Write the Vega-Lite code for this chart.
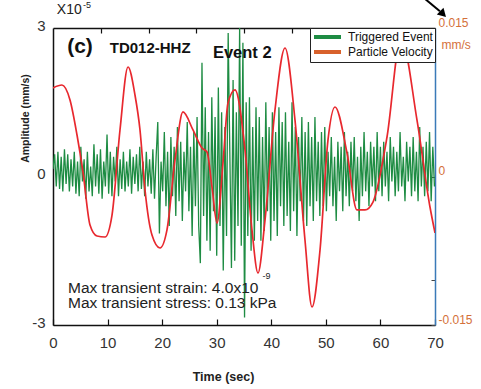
{
  "$schema": "https://vega.github.io/schema/vega-lite/v6.json",
  "width": 382,
  "height": 297,
  "autosize": "none",
  "padding": {"left": 53, "top": 28, "right": 46, "bottom": 64},
  "background": "white",
  "config": {"view": {"stroke": null}, "font": "Liberation Sans"},
  "resolve": {"scale": {"x": "independent", "y": "independent"}, "axis": {"x": "independent", "y": "independent"}},
  "layer": [
    {
      "layer": [
        {
          "data": {"values": [
            {"t":0.0,"a":0.15},{"t":0.3,"a":0.45},{"t":0.6,"a":-0.2},{"t":0.9,"a":0.5},{"t":1.2,"a":-0.25},{"t":1.5,"a":0.4},{"t":1.8,"a":-0.3},{"t":2.1,"a":0.55},{"t":2.4,"a":-0.15},{"t":2.7,"a":0.45},{"t":3.0,"a":-0.3},{"t":3.3,"a":0.35},{"t":3.6,"a":-0.2},{"t":3.9,"a":0.5},
            {"t":4.2,"a":-0.35},{"t":4.5,"a":0.3},{"t":4.8,"a":-0.4},{"t":5.1,"a":0.6},{"t":5.4,"a":-0.1},{"t":5.7,"a":0.35},{"t":6.0,"a":-0.45},{"t":6.3,"a":0.5},{"t":6.6,"a":-0.3},{"t":6.9,"a":0.2},{"t":7.2,"a":-0.4},{"t":7.5,"a":0.65},{"t":7.8,"a":-0.2},{"t":8.1,"a":0.45},{"t":8.4,"a":-0.35},{"t":8.7,"a":0.55},{"t":9.0,"a":-0.45},{"t":9.3,"a":0.3},{"t":9.6,"a":-0.2},{"t":9.9,"a":0.85},
            {"t":10.2,"a":-0.35},{"t":10.5,"a":0.5},{"t":10.8,"a":-0.4},{"t":11.1,"a":0.4},{"t":11.4,"a":-0.1},{"t":11.7,"a":0.6},{"t":12.0,"a":-0.4},{"t":12.3,"a":0.35},{"t":12.6,"a":-0.25},{"t":12.9,"a":0.5},{"t":13.2,"a":-0.3},{"t":13.5,"a":0.3},{"t":13.8,"a":-0.2},{"t":14.1,"a":0.55},{"t":14.4,"a":-0.35},{"t":14.7,"a":0.4},{"t":15.0,"a":-0.15},{"t":15.3,"a":0.45},{"t":15.6,"a":-0.3},{"t":15.9,"a":0.6},{"t":16.2,"a":-0.25},{"t":16.5,"a":0.3},{"t":16.8,"a":-0.4},{"t":17.1,"a":0.5},{"t":17.4,"a":-0.2},{"t":17.7,"a":0.35},{"t":18.0,"a":-0.35},{"t":18.3,"a":0.55},{"t":18.6,"a":-0.45},{"t":18.9,"a":0.4},{"t":19.2,"a":1.1},{"t":19.5,"a":-1.15},{"t":19.8,"a":0.3},
            {"t":20.1,"a":-0.3},{"t":20.4,"a":0.9},{"t":20.7,"a":-0.6},{"t":21.0,"a":0.5},{"t":21.3,"a":-1.0},{"t":21.6,"a":0.8},{"t":21.9,"a":-0.4},{"t":22.2,"a":0.6},{"t":22.5,"a":-0.8},{"t":22.8,"a":1.0},{"t":23.1,"a":-0.5},{"t":23.4,"a":0.7},{"t":23.7,"a":-0.9},{"t":24.0,"a":0.5},{"t":24.3,"a":-0.3},{"t":24.6,"a":1.1},{"t":24.9,"a":-0.7},{"t":25.2,"a":0.6},{"t":25.5,"a":-1.2},{"t":25.8,"a":0.9},{"t":26.1,"a":-0.6},{"t":26.4,"a":1.2},{"t":26.7,"a":-1.0},
            {"t":27.0,"a":-1.75},{"t":27.3,"a":2.3},{"t":27.6,"a":-0.8},{"t":27.9,"a":1.4},{"t":28.2,"a":-1.3},{"t":28.5,"a":0.9},{"t":28.8,"a":-1.5},{"t":29.1,"a":1.6},{"t":29.4,"a":-0.7},{"t":29.7,"a":1.2},{"t":30.0,"a":-1.6},{"t":30.3,"a":1.8},{"t":30.6,"a":-1.0},{"t":30.9,"a":1.3},{"t":31.2,"a":-1.9},{"t":31.5,"a":1.0},{"t":31.8,"a":-1.2},{"t":32.1,"a":2.9},{"t":32.4,"a":0.5},{"t":32.7,"a":-1.85},{"t":33.0,"a":1.95},{"t":33.3,"a":-1.7},{"t":33.6,"a":1.3},{"t":33.9,"a":-1.0},{"t":34.2,"a":3.0},{"t":34.5,"a":-1.4},{"t":34.8,"a":2.7},{"t":35.1,"a":-2.85},{"t":35.4,"a":1.5},{"t":35.7,"a":-1.2},{"t":36.0,"a":1.6},{"t":36.3,"a":-1.5},{"t":36.6,"a":1.0},{"t":36.9,"a":-1.3},
            {"t":37.2,"a":1.4},{"t":37.5,"a":-0.9},{"t":37.8,"a":1.2},{"t":38.1,"a":-1.3},{"t":38.4,"a":0.8},{"t":38.7,"a":-1.1},{"t":39.0,"a":1.5},{"t":39.3,"a":-0.7},{"t":39.6,"a":1.0},{"t":39.9,"a":-1.3},{"t":40.2,"a":1.3},{"t":40.5,"a":-0.9},{"t":40.8,"a":0.9},{"t":41.1,"a":-1.2},{"t":41.4,"a":1.4},{"t":41.7,"a":-0.6},{"t":42.0,"a":1.1},{"t":42.3,"a":-1.0},{"t":42.6,"a":1.3},{"t":42.9,"a":-0.8},{"t":43.2,"a":0.7},{"t":43.5,"a":-1.1},{"t":43.8,"a":1.5},{"t":44.1,"a":-0.7},{"t":44.4,"a":1.0},{"t":44.7,"a":-1.2},{"t":45.0,"a":0.8},{"t":45.3,"a":-0.5},{"t":45.6,"a":1.2},{"t":45.9,"a":-0.9},{"t":46.2,"a":0.9},{"t":46.5,"a":-1.0},{"t":46.8,"a":1.1},{"t":47.1,"a":-0.6},{"t":47.4,"a":0.8},{"t":47.7,"a":-0.9},{"t":48.0,"a":1.2},{"t":48.3,"a":-0.5},{"t":48.6,"a":0.7},{"t":48.9,"a":-0.8},{"t":49.2,"a":0.9},{"t":49.5,"a":-0.6},{"t":49.8,"a":1.0},
            {"t":50.1,"a":-0.7},{"t":50.4,"a":0.5},{"t":50.7,"a":-0.4},{"t":51.0,"a":0.8},{"t":51.3,"a":-0.6},{"t":51.6,"a":0.4},{"t":51.9,"a":-0.9},{"t":52.2,"a":0.7},{"t":52.5,"a":-0.3},{"t":52.8,"a":0.6},{"t":53.1,"a":-0.7},{"t":53.4,"a":0.9},{"t":53.7,"a":-0.4},{"t":54.0,"a":0.5},{"t":54.3,"a":-0.6},{"t":54.6,"a":0.7},{"t":54.9,"a":-0.3},{"t":55.2,"a":0.8},{"t":55.5,"a":-0.5},{"t":55.8,"a":0.4},{"t":56.1,"a":-0.9},{"t":56.4,"a":0.6},{"t":56.7,"a":-0.4},{"t":57.0,"a":0.9},{"t":57.3,"a":-0.3},{"t":57.6,"a":0.5},{"t":57.9,"a":-0.6},{"t":58.2,"a":0.7},{"t":58.5,"a":-0.2},{"t":58.8,"a":0.6},{"t":59.1,"a":-0.5},{"t":59.4,"a":0.9},{"t":59.7,"a":-0.3},
            {"t":60.0,"a":0.6},{"t":60.3,"a":-0.4},{"t":60.6,"a":0.7},{"t":60.9,"a":-0.2},{"t":61.2,"a":0.5},{"t":61.5,"a":-0.5},{"t":61.8,"a":0.8},{"t":62.1,"a":-0.1},{"t":62.4,"a":0.6},{"t":62.7,"a":-0.4},{"t":63.0,"a":0.5},{"t":63.3,"a":-0.3},{"t":63.6,"a":0.9},{"t":63.9,"a":-0.2},{"t":64.2,"a":0.4},{"t":64.5,"a":-0.5},{"t":64.8,"a":0.7},{"t":65.1,"a":-0.1},{"t":65.4,"a":0.6},{"t":65.7,"a":-0.4},{"t":66.0,"a":0.8},{"t":66.3,"a":-0.3},{"t":66.6,"a":0.5},{"t":66.9,"a":-0.5},{"t":67.2,"a":1.0},{"t":67.5,"a":-0.2},{"t":67.8,"a":0.6},{"t":68.1,"a":-0.4},{"t":68.4,"a":0.7},{"t":68.7,"a":-0.3},{"t":69.0,"a":0.9},{"t":69.3,"a":-0.5},{"t":69.6,"a":0.6},{"t":69.9,"a":-0.2}
          ]},
          "mark": {"type": "line", "strokeWidth": 1.3, "clip": true},
          "encoding": {
            "x": {"field": "t", "type": "quantitative", "scale": {"domain": [0, 70], "nice": false, "zero": false},
              "axis": {"title": "Time (sec)", "values": [0,10,20,30,40,50,60,70], "grid": false, "domainColor": "#111", "domainWidth": 1.5, "tickColor": "#111", "tickSize": -6, "tickWidth": 1.2, "labelPadding": 16, "labelFontSize": 15, "labelColor": "#333", "labelFlush": false, "titleFontSize": 12.5, "titleFontWeight": "bold", "titleColor": "#222", "titleX": 170, "titleY": 51, "titleBaseline": "middle"}},
            "y": {"field": "a", "type": "quantitative", "scale": {"domain": [-3, 3], "nice": false},
              "axis": {"title": "Amplitude (mm/s)", "values": [-3, 0, 3], "labelExpr": "datum.value < 0 ? '-3' : datum.label", "grid": false, "ticks": false, "domainColor": "#111", "domainWidth": 1.5, "labelPadding": 8, "labelOffset": -3, "labelFontSize": 15, "labelColor": "#333", "titleFontSize": 10.5, "titleFontWeight": "bold", "titleColor": "#222", "titleX": -28, "titleY": 90, "titleBaseline": "middle", "titleAlign": "center", "titleAngle": 270}},
            "color": {"datum": "Triggered Event", "scale": {"domain": ["Triggered Event", "Particle Velocity"], "range": ["#1e8c43", "#d8612c"]},
              "legend": {"title": null, "orient": "top-right", "offset": 0, "padding": 2, "strokeColor": "#222", "fillColor": "white", "symbolType": "M-1,0H4.4", "symbolStrokeWidth": 4, "symbolSize": 100, "labelFontSize": 12, "labelColor": "#111", "labelOffset": 22, "rowPadding": -3}}
          }
        },
        {
          "data": {"values": [{"t": 2.6, "a": 2.62, "label": "(c)"}]},
          "mark": {"type": "text", "align": "left", "baseline": "middle", "fontSize": 21, "fontWeight": "bold", "color": "#111"},
          "encoding": {"x": {"field": "t", "type": "quantitative"}, "y": {"field": "a", "type": "quantitative"}, "text": {"field": "label"}}
        },
        {
          "data": {"values": [{"t": 10.4, "a": 2.6, "label": "TD012-HHZ"}]},
          "mark": {"type": "text", "align": "left", "baseline": "middle", "fontSize": 15, "fontWeight": "bold", "color": "#111"},
          "encoding": {"x": {"field": "t", "type": "quantitative"}, "y": {"field": "a", "type": "quantitative"}, "text": {"field": "label"}}
        },
        {
          "data": {"values": [{"t": 29.3, "a": 2.5, "label": "Event 2"}]},
          "mark": {"type": "text", "align": "left", "baseline": "middle", "fontSize": 16.5, "fontWeight": "bold", "color": "#111"},
          "encoding": {"x": {"field": "t", "type": "quantitative"}, "y": {"field": "a", "type": "quantitative"}, "text": {"field": "label"}}
        },
        {
          "data": {"values": [{"t": 2.75, "a": -2.25, "label": "Max transient strain: 4.0x10"}, {"t": 2.75, "a": -2.56, "label": "Max transient stress: 0.13 kPa"}]},
          "mark": {"type": "text", "align": "left", "baseline": "middle", "fontSize": 15.5, "color": "#222"},
          "encoding": {"x": {"field": "t", "type": "quantitative"}, "y": {"field": "a", "type": "quantitative"}, "text": {"field": "label"}}
        },
        {
          "data": {"values": [{"t": 0.7, "a": 3.36, "label": "X10"}]},
          "mark": {"type": "text", "align": "left", "baseline": "middle", "fontSize": 14, "color": "#222", "clip": false},
          "encoding": {"x": {"field": "t", "type": "quantitative"}, "y": {"field": "a", "type": "quantitative"}, "text": {"field": "label"}}
        },
        {
          "data": {"values": [{"t": 38.4, "a": -2.02, "label": "-9"}, {"t": 5.5, "a": 3.47, "label": "-5"}]},
          "mark": {"type": "text", "align": "left", "baseline": "middle", "fontSize": 9, "color": "#222"},
          "encoding": {"x": {"field": "t", "type": "quantitative"}, "y": {"field": "a", "type": "quantitative"}, "text": {"field": "label"}}
        },
        {
          "data": {"values": [{"t": 67.6, "a": 3.64, "t2": 70.9, "a2": 3.34}]},
          "mark": {"type": "rule", "strokeWidth": 2, "color": "black"},
          "encoding": {"x": {"field": "t", "type": "quantitative"}, "y": {"field": "a", "type": "quantitative"}, "x2": {"field": "t2"}, "y2": {"field": "a2"}}
        },
        {
          "data": {"values": [{"t": 71.3, "a": 3.3}]},
          "mark": {"type": "point", "shape": "triangle", "angle": 135, "size": 90, "filled": true, "color": "black", "opacity": 1},
          "encoding": {"x": {"field": "t", "type": "quantitative"}, "y": {"field": "a", "type": "quantitative"}}
        }
      ]
    },
    {
      "data": {"values": [
        {"t":0,"v":0.00894},{"t":1.88,"v":0.00924},{"t":3.56,"v":0.00773},{"t":5.03,"v":0.00419},{"t":6.28,"v":0.00045},{"t":7.75,"v":-0.0049},{"t":9.21,"v":-0.00601},{"t":10.89,"v":-0.00611},{"t":12.36,"v":-0.00389},{"t":14.03,"v":0.0047},{"t":15.71,"v":0.01106},{"t":17.17,"v":0.00823},{"t":18.22,"v":0.0047},{"t":19.27,"v":-0.00136},{"t":20.73,"v":-0.00591},{"t":22.41,"v":-0.00722},{"t":23.87,"v":-0.0054},{"t":25.55,"v":0.00167},{"t":27.22,"v":0.00652},{"t":29.32,"v":0.0047},{"t":31.2,"v":0.00288},{"t":32.25,"v":0.00248},{"t":33.3,"v":-0.00106},{"t":34.35,"v":-0.0047},{"t":35.6,"v":0.00136},{"t":36.65,"v":0.00742},{"t":38.12,"v":0.00874},{"t":40.21,"v":0.00268},{"t":41.67,"v":-0.0054},{"t":42.93,"v":-0.00975},{"t":44.4,"v":-0.0044},{"t":46.49,"v":0.00672},{"t":48.59,"v":0.01298},{"t":50.68,"v":0.0057},{"t":52.77,"v":-0.00641},{"t":54.24,"v":-0.01318},{"t":55.92,"v":-0.00742},{"t":57.59,"v":0.00369},{"t":59.06,"v":0.00702},{"t":61.57,"v":0.00237},{"t":63.66,"v":-0.00338},{"t":65.34,"v":-0.00338},{"t":67.01,"v":-0.00258},{"t":69.95,"v":0.00399},{"t":72.88,"v":0.01399},{"t":76.23,"v":0.0057},{"t":78.95,"v":-0.00308},{"t":80,"v":-0.0057}
      ]},
      "mark": {"type": "line", "color": "#e8282e", "strokeWidth": 1.7, "interpolate": "monotone", "clip": true},
      "encoding": {
        "x": {"field": "t", "type": "quantitative", "scale": {"domain": [0, 80], "nice": false, "zero": false},
          "axis": {"orient": "top", "title": null, "labels": false, "values": [10,20,30,40,50,60,70], "grid": false, "domainColor": "#111", "domainWidth": 1.5, "tickColor": "#111", "tickSize": -5, "tickWidth": 1.2}},
        "y": {"field": "v", "type": "quantitative", "scale": {"domain": [-0.015, 0.015], "nice": false},
          "axis": {"orient": "right", "values": [-0.015, -0.0105, 0, 0.015], "labelExpr": "datum.value > 0.012 ? '0.015' : datum.value < -0.012 ? '-0.015' : datum.value == 0 ? '0' : ''", "grid": false, "domainColor": "#3a7ab8", "domainWidth": 1.5, "tickColor": "#444", "tickSize": -4, "labelPadding": 7, "labelOffset": -6, "labelFontSize": 12, "labelColor": "#d4703a", "title": "mm/s", "titleAngle": 0, "titleAlign": "left", "titleBaseline": "middle", "titleX": 6, "titleY": 16, "titleFontSize": 12, "titleFontWeight": "normal", "titleColor": "#d4703a"}}
      }
    }
  ]
}
